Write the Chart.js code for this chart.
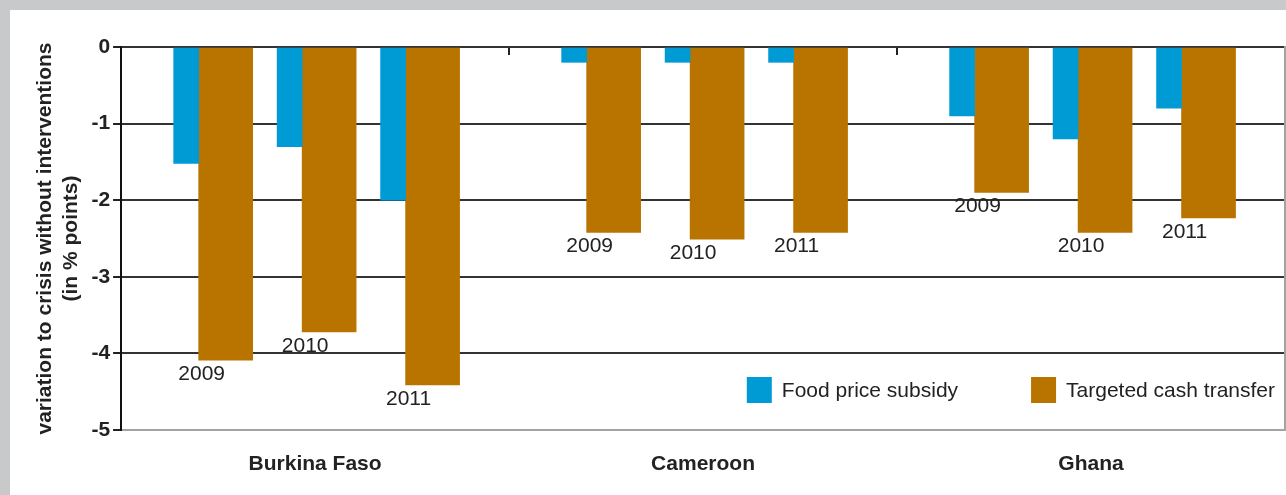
<!DOCTYPE html>
<html>
<head>
<meta charset="utf-8">
<script src="https://cdn.jsdelivr.net/npm/chart.js@4.4.1/dist/chart.umd.min.js"></script>
<style>
  html, body { margin: 0; padding: 0; background: #c8c9cb; }
  #frame { position: absolute; left: 10px; top: 10px; width: 1276px; height: 485px; background: #fff; }
</style>
</head>
<body>
<div id="frame"><canvas id="chart" width="1276" height="485"></canvas></div>
<script>
/* --- Data --- */
var countries = ['Burkina Faso', 'Cameroon', 'Ghana'];
var years = ['2009', '2010', '2011'];
var seriesNames = ['Food price subsidy', 'Targeted cash transfer'];
// order: country by country, 2009 / 2010 / 2011
var foodSubsidy = [-1.52, -1.3, -2.0, -0.2, -0.2, -0.2, -0.9, -1.2, -0.8];
var cashTransfer = [-4.09, -3.72, -4.41, -2.42, -2.51, -2.42, -1.9, -2.42, -2.23];
var yTicks = [-5, -4, -3, -2, -1, 0];

var FONT = '"Liberation Sans", Arial, sans-serif';
var BLUE = '#009ad4';
var BROWN = '#b97400';

/* --- Slot layout of the hidden category axis (empty slots give the spacing) --- */
var LEAD = 3, YEAR_GAP = 3, COUNTRY_GAP = 6, TAIL = 4;
var slots = [];
function pad(n) { for (var k = 0; k < n; k++) slots.push(''); }
pad(LEAD);
for (var ci = 0; ci < countries.length; ci++) {
  for (var yi = 0; yi < years.length; yi++) {
    slots.push(countries[ci] + ' ' + years[yi]);
    if (yi < years.length - 1) pad(YEAR_GAP);
  }
  if (ci < countries.length - 1) pad(COUNTRY_GAP);
}
pad(TAIL);

function toPoints(values) {
  return values.map(function(v, i) {
    return { x: countries[Math.floor(i / years.length)] + ' ' + years[i % years.length], y: v };
  });
}

/* --- Year labels under the cash transfer bars --- */
var yearLabels = {
  id: 'yearLabels',
  afterDatasetsDraw: function(chart) {
    var meta = chart.getDatasetMeta(1);
    var ctx = chart.ctx;
    ctx.save();
    ctx.font = '21px ' + FONT;
    ctx.fillStyle = '#222';
    ctx.textAlign = 'center';
    ctx.textBaseline = 'middle';
    for (var i = 0; i < meta.data.length; i++) {
      var bar = meta.data[i];
      ctx.fillText(years[i % years.length], bar.x - bar.width / 2 + 3, bar.y + 14);
    }
    ctx.restore();
  }
};

/* --- Legend drawn inside the plot, bottom right --- */
var boxLegend = {
  id: 'boxLegend',
  afterDraw: function(chart) {
    var area = chart.chartArea;
    var ctx = chart.ctx;
    var sets = chart.data.datasets;
    ctx.save();
    ctx.font = '21px ' + FONT;
    ctx.textBaseline = 'middle';
    ctx.textAlign = 'left';
    var x = area.right - 10;
    var cy = area.bottom - 40;
    for (var i = sets.length - 1; i >= 0; i--) {
      var w = ctx.measureText(sets[i].label).width;
      x -= w;
      ctx.fillStyle = '#222';
      ctx.fillText(sets[i].label, x, cy + 1);
      x -= 10 + 25;
      ctx.fillStyle = sets[i].backgroundColor;
      ctx.fillRect(x, cy - 13, 25, 26);
      x -= 73;
    }
    ctx.restore();
  }
};

Chart.defaults.font.family = FONT;
Chart.defaults.color = '#222';

new Chart(document.getElementById('chart'), {
  type: 'bar',
  data: {
    labels: slots,
    datasets: [
      { label: seriesNames[0], data: toPoints(foodSubsidy), backgroundColor: BLUE, barThickness: 25 },
      { label: seriesNames[1], data: toPoints(cashTransfer), backgroundColor: BROWN, barThickness: 54 }
    ]
  },
  options: {
    responsive: false,
    animation: false,
    layout: { padding: { left: 19, right: 1, top: 37, bottom: 19 } },
    plugins: { legend: { display: false }, tooltip: { enabled: false } },
    scales: {
      x: { type: 'category', display: false, offset: false },
      xc: {
        type: 'category', labels: countries, position: 'bottom', offset: true,
        afterFit: function(s) { s.height = 46; },
        grid: { display: false, drawTicks: false },
        border: { display: false },
        ticks: { font: { size: 21, weight: 'bold' }, color: '#222', padding: 22 }
      },
      xt: {
        type: 'category', labels: countries, position: 'top', offset: true, z: 1,
        afterFit: function(s) { s.height = 0; },
        grid: { offset: true, drawOnChartArea: false, tickLength: -8, color: '#222', lineWidth: 2 },
        border: { display: true, color: '#333', width: 2 },
        ticks: { display: false }
      },
      y: {
        min: -5, max: 0,
        afterBuildTicks: function(scale) {
          scale.ticks = yTicks.map(function(v) { return { value: v }; });
        },
        grid: {
          color: function(c) { return c.tick && c.tick.value === -5 ? '#a3a3a3' : '#333'; },
          tickColor: '#222', lineWidth: 2, tickLength: 8
        },
        border: { color: '#111', width: 2 },
        ticks: { font: { size: 21, weight: 'bold' }, color: '#222', padding: 3 },
        title: {
          display: true,
          text: ['variation to crisis without interventions', '(in % points)'],
          font: { size: 21, weight: 'bold' }, color: '#222',
          padding: { top: 4, bottom: 5 }
        }
      },
      yr: {
        position: 'right', min: -5, max: 0,
        grid: { display: false, drawTicks: false },
        ticks: { display: false },
        border: { color: '#a3a3a3', width: 2 }
      }
    }
  },
  plugins: [yearLabels, boxLegend]
});
</script>
</body>
</html>
